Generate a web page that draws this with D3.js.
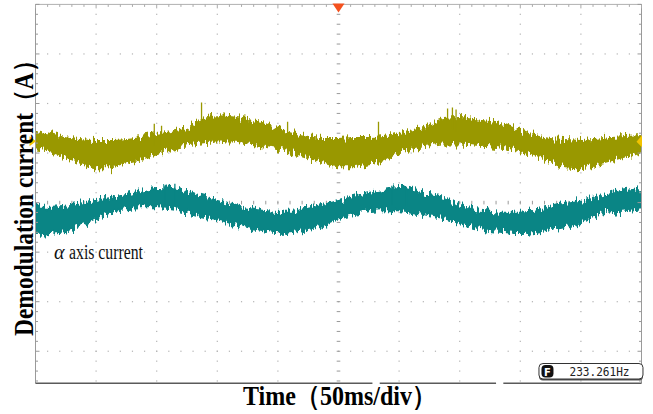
<!DOCTYPE html>
<html>
<head>
<meta charset="utf-8">
<script src="https://cdn.jsdelivr.net/npm/d3@7"></script>
<style>
  html, body { margin: 0; padding: 0; background: #fff; }
  svg { display: block; }
</style>
</head>
<body>
<div id="chart"></div>
<script>
// time axis (ms), 50 ms/div, 10 divisions
const timeMs = [0, 12, 24, 36, 50, 62, 75, 87, 100, 112, 125, 137, 150, 162, 175, 187, 200, 212, 225, 237,
    250, 262, 275, 287, 300, 312, 325, 337, 350, 362, 375, 387, 400, 412, 425, 437, 450, 462, 475, 487, 500];

// demodulation current envelopes, in screen divisions (0 = centre line)
const demodTop = [1.45, 1.39, 1.31, 1.27, 1.25, 1.25, 1.27, 1.31, 1.37, 1.43, 1.51, 1.67, 1.75, 1.73, 1.67, 1.61,
    1.49, 1.41, 1.33, 1.29, 1.29, 1.31, 1.31, 1.33, 1.41, 1.47, 1.57, 1.69, 1.71, 1.67, 1.63, 1.57, 1.45, 1.35,
    1.29, 1.27, 1.25, 1.27, 1.31, 1.33, 1.35];
const demodBottom = [1.09, 1.03, 0.93, 0.81, 0.71, 0.71, 0.79, 0.87, 0.99, 1.09, 1.17, 1.21, 1.23, 1.23, 1.19,
    1.15, 1.09, 1.01, 0.91, 0.81, 0.73, 0.73, 0.79, 0.85, 1.01, 1.09, 1.15, 1.19, 1.19, 1.17, 1.15, 1.11, 1.05,
    0.97, 0.83, 0.73, 0.71, 0.77, 0.85, 0.93, 1.03];

// alpha axis current envelopes
const alphaTop = [-0.08, -0.08, -0.06, -0.02, 0.04, 0.10, 0.16, 0.24, 0.30, 0.28, 0.22, 0.12, 0.04, -0.04, -0.12,
    -0.16, -0.18, -0.18, -0.10, -0.04, 0.04, 0.12, 0.20, 0.26, 0.30, 0.24, 0.16, 0.10, -0.06, -0.14, -0.18, -0.20,
    -0.20, -0.16, -0.08, -0.02, 0.02, 0.10, 0.18, 0.24, 0.28];
const alphaBottom = [-0.64, -0.62, -0.58, -0.48, -0.34, -0.18, -0.12, -0.10, -0.10, -0.12, -0.20, -0.28, -0.34,
    -0.42, -0.52, -0.58, -0.62, -0.60, -0.54, -0.46, -0.32, -0.24, -0.18, -0.16, -0.16, -0.20, -0.26, -0.32,
    -0.42, -0.50, -0.58, -0.60, -0.62, -0.60, -0.54, -0.48, -0.40, -0.26, -0.20, -0.16, -0.12];

// isolated glitches sticking out of the bands
const demodSpikeT = [98, 104, 137, 208, 283, 340, 344, 347];
const demodSpikeV = [1.59, 1.55, 2.02, 1.63, 1.63, 1.90, 1.92, 1.88];
const alphaSpikeT = [107, 115, 294, 306];
const alphaSpikeV = [0.36, 0.38, 0.34, 0.32];

// channel reference levels (left markers)
const demodRef = 1.24;
const alphaRef = -0.07;
const triggerT = 250;

const freqLabel = "233.261Hz";
const xTitle = "Time（50ms/div）";
const yTitle = "Demodulation current（A）";
const traceSymbol = "α";
const traceLabel = "axis current";

const W = 653, H = 414;
const colors = { demod: "#999800", alpha: "#0a8585", grid: "#b3b3b3", frame: "#9a9a9a" };

const svg = d3.select("#chart").append("svg")
    .attr("width", W)
    .attr("height", H);

const x = d3.scaleLinear().domain([0, 500]).range([35.5, 641.5]);
const y = d3.scaleLinear().domain([-4, 4]).range([400.8, 4.4]);
const plotBottom = 383.3;

const defs = svg.append("defs");
defs.append("clipPath").attr("id", "plot")
    .append("rect")
    .attr("x", x(0)).attr("y", y(4))
    .attr("width", x(500) - x(0)).attr("height", plotBottom - y(4));

// noisy edges of the scope traces
const jag = defs.append("filter").attr("id", "jag")
    .attr("x", "-5%").attr("y", "-40%").attr("width", "110%").attr("height", "180%")
    .attr("color-interpolation-filters", "sRGB");
jag.append("feTurbulence")
    .attr("type", "fractalNoise")
    .attr("baseFrequency", "0.45 0.05")
    .attr("numOctaves", 2)
    .attr("seed", 7)
    .attr("result", "noise");
jag.append("feColorMatrix")
    .attr("in", "noise")
    .attr("type", "matrix")
    .attr("values", "0 0 0 0 0.5  0 1 0 0 0  0 0 0 0 0  0 0 0 0 1")
    .attr("result", "map");
jag.append("feDisplacementMap")
    .attr("in", "SourceGraphic")
    .attr("in2", "map")
    .attr("scale", 16)
    .attr("xChannelSelector", "R")
    .attr("yChannelSelector", "G");

// grid: dotted lines every division, 5 dots per division
const grid = svg.append("g").attr("clip-path", "url(#plot)");
const vDots = d3.range(-4, 4.001, 0.2);
const hDots = d3.range(0, 500.001, 10);

d3.range(50, 500, 50).filter(t => t !== 250).forEach(t => {
    grid.selectAll(null).data(vDots).enter().append("rect")
        .attr("x", x(t) - 0.6).attr("y", d => y(d) - 0.6)
        .attr("width", 1.2).attr("height", 1.2)
        .attr("fill", colors.grid);
});
d3.range(-3, 4, 1).filter(v => v !== 0).forEach(v => {
    grid.selectAll(null).data(hDots).enter().append("rect")
        .attr("x", d => x(d) - 0.6).attr("y", y(v) - 0.6)
        .attr("width", 1.2).attr("height", 1.2)
        .attr("fill", colors.grid);
});

// centre crosshair with minor ticks
grid.selectAll(null).data(vDots).enter().append("line")
    .attr("x1", x(triggerT) - 1.8).attr("x2", x(triggerT) + 1.8)
    .attr("y1", d => y(d)).attr("y2", d => y(d))
    .attr("stroke", "#999").attr("stroke-width", 1);
grid.selectAll(null).data(hDots).enter().append("line")
    .attr("x1", d => x(d)).attr("x2", d => x(d))
    .attr("y1", y(0) - 1.8).attr("y2", y(0) + 1.8)
    .attr("stroke", "#999").attr("stroke-width", 1);

// traces
const traces = svg.append("g").attr("clip-path", "url(#plot)");

function band(top, bottom) {
    return d3.area()
        .x((d, i) => x(timeMs[i]))
        .y0((d, i) => y(bottom[i]))
        .y1((d, i) => y(top[i]))
        .curve(d3.curveMonotoneX)(timeMs);
}

traces.append("path")
    .attr("d", band(demodTop, demodBottom))
    .attr("fill", colors.demod)
    .attr("stroke", colors.demod)
    .attr("stroke-width", 1.5)
    .attr("filter", "url(#jag)");

traces.append("path")
    .attr("d", band(alphaTop, alphaBottom))
    .attr("fill", colors.alpha)
    .attr("stroke", colors.alpha)
    .attr("stroke-width", 1.5)
    .attr("filter", "url(#jag)");

traces.selectAll(".spike-d").data(demodSpikeT).enter().append("line")
    .attr("class", "spike-d")
    .attr("x1", d => x(d)).attr("x2", d => x(d))
    .attr("y1", (d, i) => y(demodSpikeV[i])).attr("y2", (d, i) => y(demodSpikeV[i] - 0.45))
    .attr("stroke", colors.demod).attr("stroke-width", 1.3);

traces.selectAll(".spike-a").data(alphaSpikeT).enter().append("line")
    .attr("class", "spike-a")
    .attr("x1", d => x(d)).attr("x2", d => x(d))
    .attr("y1", (d, i) => y(alphaSpikeV[i])).attr("y2", (d, i) => y(alphaSpikeV[i] - 0.4))
    .attr("stroke", colors.alpha).attr("stroke-width", 1.3);

// frame
const frame = svg.append("g");
frame.append("line")
    .attr("x1", x(0)).attr("x2", x(500)).attr("y1", y(4)).attr("y2", y(4))
    .attr("stroke", "#b0b0b0");
frame.append("line")
    .attr("x1", x(0)).attr("x2", x(0)).attr("y1", y(4)).attr("y2", plotBottom)
    .attr("stroke", colors.frame);
frame.append("line")
    .attr("x1", x(500)).attr("x2", x(500)).attr("y1", y(4)).attr("y2", plotBottom)
    .attr("stroke", colors.frame);

// bottom edge is broken in two places on the capture
[[0, 278], [284, 380], [386, 500]].forEach(([a, b]) => {
    frame.append("line")
        .attr("x1", x(a)).attr("x2", x(b)).attr("y1", plotBottom).attr("y2", plotBottom)
        .attr("stroke", "#5a5a5a").attr("stroke-width", 1.6);
});

// border ticks
frame.selectAll(null).data(hDots).enter().append("line")
    .attr("x1", d => x(d)).attr("x2", d => x(d))
    .attr("y1", y(4)).attr("y2", d => y(4) + (d % 50 === 0 ? 4 : 2.5))
    .attr("stroke", "#aaa");
frame.selectAll(null).data(vDots.filter(v => y(v) < plotBottom)).enter().append("line")
    .attr("x1", x(500)).attr("x2", d => x(500) - (Math.abs(d % 1) < 1e-6 ? 4 : 2.5))
    .attr("y1", d => y(d)).attr("y2", d => y(d))
    .attr("stroke", "#999");
frame.selectAll(null).data(vDots.filter(v => y(v) < plotBottom)).enter().append("line")
    .attr("x1", x(0)).attr("x2", d => x(0) + (Math.abs(d % 1) < 1e-6 ? 4 : 2.5))
    .attr("y1", d => y(d)).attr("y2", d => y(d))
    .attr("stroke", "#999");

// markers: trigger position and channel levels
const tx = x(triggerT);
svg.append("path")
    .attr("d", `M${tx - 6},${y(4) - 1}L${tx + 6},${y(4) - 1}L${tx},${y(4) + 8}Z`)
    .attr("fill", "#f4511e");
svg.append("path")
    .attr("d", `M${x(0) - 6},${y(demodRef) - 5}L${x(0) + 0.5},${y(demodRef)}L${x(0) - 6},${y(demodRef) + 5}Z`)
    .attr("fill", "#f2c300");
svg.append("path")
    .attr("d", `M${x(500) + 0.5},${y(demodRef) - 6}L${x(500) - 5},${y(demodRef) + 0.5}L${x(500) + 0.5},${y(demodRef) + 6}Z`)
    .attr("fill", "#f2c300");
svg.append("path")
    .attr("d", `M${x(0) - 7},${y(alphaRef) - 5}L${x(0) - 2},${y(alphaRef)}L${x(0) - 7},${y(alphaRef) + 5}`)
    .attr("fill", "none")
    .attr("stroke", "#7fe3f0")
    .attr("stroke-width", 1.3);

// frequency readout box
const box = svg.append("g").attr("transform", `translate(${x(415)},363)`);
box.append("rect")
    .attr("x", 0.5).attr("y", 1.5).attr("width", 104).attr("height", 16).attr("rx", 4)
    .attr("fill", "#555");
box.append("rect")
    .attr("x", 0.5).attr("y", 0.5).attr("width", 104).attr("height", 15.5).attr("rx", 4)
    .attr("fill", "#fff").attr("stroke", "#333");
box.append("rect")
    .attr("x", 3).attr("y", 2).attr("width", 12).attr("height", 12.5).attr("rx", 4)
    .attr("fill", "#111");
box.append("text")
    .attr("x", 9).attr("y", 12.5)
    .attr("text-anchor", "middle")
    .attr("font-family", "'DejaVu Sans', sans-serif")
    .attr("font-weight", "bold")
    .attr("font-size", 10)
    .attr("fill", "#fff")
    .text("F");
box.append("text")
    .attr("x", 31).attr("y", 13)
    .attr("font-family", "'DejaVu Sans Mono', monospace")
    .attr("font-size", 12)
    .attr("textLength", 60)
    .attr("lengthAdjust", "spacingAndGlyphs")
    .attr("fill", "#222")
    .text(freqLabel);

// trace label
svg.append("text")
    .attr("x", 54).attr("y", 258.5)
    .attr("font-family", "'Liberation Serif', 'Times New Roman', serif")
    .attr("font-style", "italic")
    .attr("font-size", 20)
    .attr("fill", "#111")
    .text(traceSymbol);
svg.append("text")
    .attr("x", 69).attr("y", 258.5)
    .attr("font-family", "'Liberation Serif', 'Times New Roman', serif")
    .attr("font-size", 20)
    .attr("textLength", 74)
    .attr("lengthAdjust", "spacingAndGlyphs")
    .attr("fill", "#111")
    .text(traceLabel);

// axis titles
svg.append("text")
    .attr("x", 243).attr("y", 405)
    .attr("font-family", "'Liberation Serif', 'Times New Roman', serif")
    .attr("font-weight", "bold")
    .attr("font-size", 27)
    .attr("textLength", 193)
    .attr("lengthAdjust", "spacingAndGlyphs")
    .attr("fill", "#000")
    .text(xTitle);

svg.append("text")
    .attr("transform", "translate(33,336) rotate(-90)")
    .attr("font-family", "'Liberation Serif', 'Times New Roman', serif")
    .attr("font-weight", "bold")
    .attr("font-size", 27)
    .attr("textLength", 287)
    .attr("lengthAdjust", "spacingAndGlyphs")
    .attr("fill", "#000")
    .text(yTitle);
</script>
</body>
</html>
